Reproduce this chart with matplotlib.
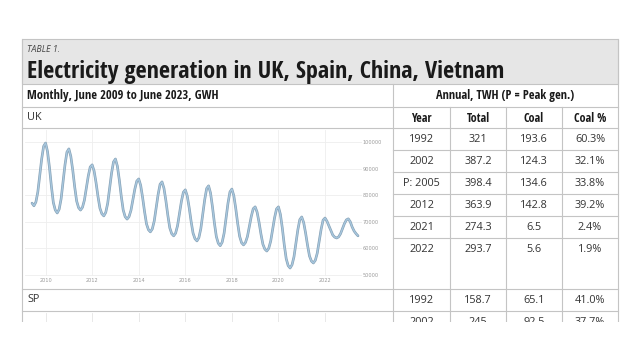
import matplotlib
matplotlib.use("Agg")
import matplotlib.pyplot as plt
import matplotlib.patheffects as pe
from matplotlib.patches import Rectangle

W, H = 640, 360
NARROW = ['Open Sans Condensed', 'Roboto Condensed', 'Liberation Sans Narrow', 'Open Sans', 'DejaVu Sans']
PLAIN = ['Open Sans', 'DejaVu Sans']

# UK monthly generation, GWh (Jun 2009 .. Jun 2023)
uk_2009 = [77000, 76000, 77400, 81200, 87300, 93700, 98400]  # Jun-Dec
uk_2010 = [99600, 96400, 90400, 83300, 77200, 74400, 73300, 74700, 78600, 84900, 91400, 96200]
uk_2011 = [97400, 94600, 89400, 83100, 77800, 75300, 74400, 75400, 78100, 82600, 87200, 90600]
uk_2012 = [91400, 89100, 84700, 79500, 75100, 73000, 72200, 73500, 76900, 82500, 88300, 92500]
uk_2013 = [93600, 90900, 85700, 79600, 74400, 71900, 71000, 71900, 74300, 78200, 82300, 85300]
uk_2014 = [86100, 83700, 79100, 73800, 69200, 67000, 66200, 67300, 70300, 75200, 80300, 84100]
uk_2015 = [85000, 82600, 77900, 72400, 67700, 65500, 64700, 65700, 68500, 73000, 77700, 81100]
uk_2016 = [82000, 79700, 75300, 70100, 65700, 63600, 62800, 64000, 67400, 72700, 78300, 82500]
uk_2017 = [83500, 80800, 75600, 69500, 64400, 61900, 61000, 62300, 65700, 71200, 77000, 81200]
uk_2018 = [82300, 79800, 75000, 69300, 64500, 62100, 61300, 62200, 64400, 68200, 72000, 74900]
uk_2019 = [75600, 73600, 69800, 65300, 61500, 59700, 59000, 60000, 62700, 67000, 71500, 74800]
uk_2020 = [75600, 72800, 67600, 61300, 56100, 53500, 52600, 53800, 56800, 61800, 67000, 70800]
uk_2021 = [71800, 69700, 65700, 61100, 57100, 55200, 54500, 55500, 58200, 62600, 67200, 70600]
uk_2022 = [71400, 70200, 68500, 66800, 65000, 64200, 63900, 64300, 65500, 67400, 69300, 70700]
uk_2023 = [71100, 70000, 68000, 66500, 65500, 64700]  # Jan-Jun

uk = (uk_2009 + uk_2010 + uk_2011 + uk_2012 + uk_2013 + uk_2014 + uk_2015 + uk_2016
      + uk_2017 + uk_2018 + uk_2019 + uk_2020 + uk_2021 + uk_2022 + uk_2023)
months = [2009 + (5 + i) / 12 for i in range(len(uk))]

year_ticks = [2010, 2012, 2014, 2016, 2018, 2020, 2022]
gwh_ticks = [50000, 60000, 70000, 80000, 90000, 100000]

# annual table, TWh
col_heads = ['Year', 'Total', 'Coal', 'Coal %']
uk_year = ['1992', '2002', 'P: 2005', '2012', '2021', '2022']
uk_total = ['321', '387.2', '398.4', '363.9', '274.3', '293.7']
uk_coal = ['193.6', '124.3', '134.6', '142.8', '6.5', '5.6']
uk_pct = ['60.3%', '32.1%', '33.8%', '39.2%', '2.4%', '1.9%']
sp_year = ['1992', '2002']
sp_total = ['158.7', '245']
sp_coal = ['65.1', '92.5']
sp_pct = ['41.0%', '37.7%']

fig = plt.figure(figsize=(W / 100, H / 100), dpi=100)
fig.patch.set_facecolor('white')

# pixel-space overlay for the table frame
bg = fig.add_axes([0, 0, 1, 1])
bg.set_xlim(0, W)
bg.set_ylim(H, 0)
bg.axis('off')

LC = '#c4c4c4'
L, R, TOP, BOT = 22, 618, 39, 322
DIV = 393
cols = [393, 450, 506, 562, 618]
row_h = 22

bg.add_patch(Rectangle((L, TOP), R - L, 45, facecolor='#e6e6e6', edgecolor=LC, lw=0.8))
bg.plot([L, L], [TOP, BOT], color=LC, lw=0.8)
bg.plot([R, R], [TOP, BOT], color=LC, lw=0.8)
bg.plot([DIV, DIV], [84, BOT], color=LC, lw=0.8)
for cx in cols[1:-1]:
    bg.plot([cx, cx], [107, BOT], color=LC, lw=0.8)
for yy in [107, 128, 289, 311]:
    bg.plot([L, R], [yy, yy], color=LC, lw=0.8)
for k in range(1, 6):
    yy = 128 + k * row_h
    bg.plot([DIV, R], [yy, yy], color=LC, lw=0.8)

bold = dict(family=NARROW, fontstretch='condensed', fontweight='bold', color='#1a1a1a')
plain = dict(family=PLAIN, color='#333333')

bg.text(27, 49.5, 'TABLE 1.', fontsize=6.4, style='italic', va='center',
        family=PLAIN, color='#444444')
title = bg.text(27, 78.5, 'Electricity generation in UK, Spain, China, Vietnam',
                fontsize=16, va='baseline', **bold)
head1 = bg.text(27, 96, 'Monthly, June 2009 to June 2023, GWH', fontsize=8.5, va='center', **bold)
head2 = bg.text((DIV + R) / 2, 96, 'Annual, TWH (P = Peak gen.)', fontsize=8.5,
                va='center', ha='center', **bold)
bg.text(27, 118, 'UK', fontsize=7.8, va='center', **plain)
bg.text(27, 300, 'SP', fontsize=7.8, va='center', **plain)

centers = [(cols[i] + cols[i + 1]) / 2 for i in range(4)]
for cx, head in zip(centers, col_heads):
    bg.text(cx, 118, head, fontsize=8.7, ha='center', va='center', **bold)
for r, row in enumerate(zip(uk_year, uk_total, uk_coal, uk_pct)):
    for cx, val in zip(centers, row):
        bg.text(cx, 139.5 + r * row_h, val, fontsize=7.8, ha='center', va='center', **plain)
for r, row in enumerate(zip(sp_year, sp_total, sp_coal, sp_pct)):
    for cx, val in zip(centers, row):
        bg.text(cx, 300.5 + r * row_h, val, fontsize=7.8, ha='center', va='center', **plain)

# fit the wide headings to the widths seen in the reference
fig.canvas.draw()
for t, target, cap in [(title, 480, 17.4), (head1, 189, 9), (head2, 138, 9)]:
    w = t.get_window_extent().width
    t.set_fontsize(min(cap, t.get_fontsize() * target / w))

# UK monthly chart
x0, x1 = 2009.116, 2023.588
y0, y1 = 49600, 104500
ax = fig.add_axes([25 / W, 1 - 276 / H, (362 - 25) / W, (276 - 130) / H])
ax.set_facecolor('none')
ax.plot(months, uk, color='#a7c7de', lw=1.0, solid_capstyle='round',
        path_effects=[pe.Stroke(linewidth=1.9, foreground='#86a0b4'), pe.Normal()])
ax.set_xlim(x0, x1)
ax.set_ylim(y0, y1)
ax.set_xticks(year_ticks)
ax.set_xticklabels([str(y) for y in year_ticks])
ax.set_yticks(gwh_ticks)
ax.set_yticklabels([str(v) for v in gwh_ticks])
ax.yaxis.tick_right()
ax.tick_params(length=0, labelsize=3.6, labelcolor='#9a9a9a', pad=1.5)
ax.tick_params(axis='y', pad=0.5)
ax.grid(True, color='#eeeeee', lw=0.6)
for s in ax.spines.values():
    s.set_visible(False)

# top of the Spain chart, cut off by the page edge
ax2 = fig.add_axes([25 / W, 1 - 322 / H, (362 - 25) / W, (322 - 313) / H])
ax2.set_facecolor('none')
ax2.set_xlim(x0, x1)
ax2.set_xticks(year_ticks)
ax2.set_yticks([])
ax2.tick_params(length=0, labelbottom=False)
ax2.grid(True, axis='x', color='#e4e4e4', lw=0.6)
for s in ax2.spines.values():
    s.set_visible(False)

fig.add_artist(Rectangle((0, 0), 1, (H - BOT) / H, transform=fig.transFigure,
                         facecolor='white', edgecolor='none', zorder=10))

fig.savefig('out.png', dpi=100, facecolor='white')
